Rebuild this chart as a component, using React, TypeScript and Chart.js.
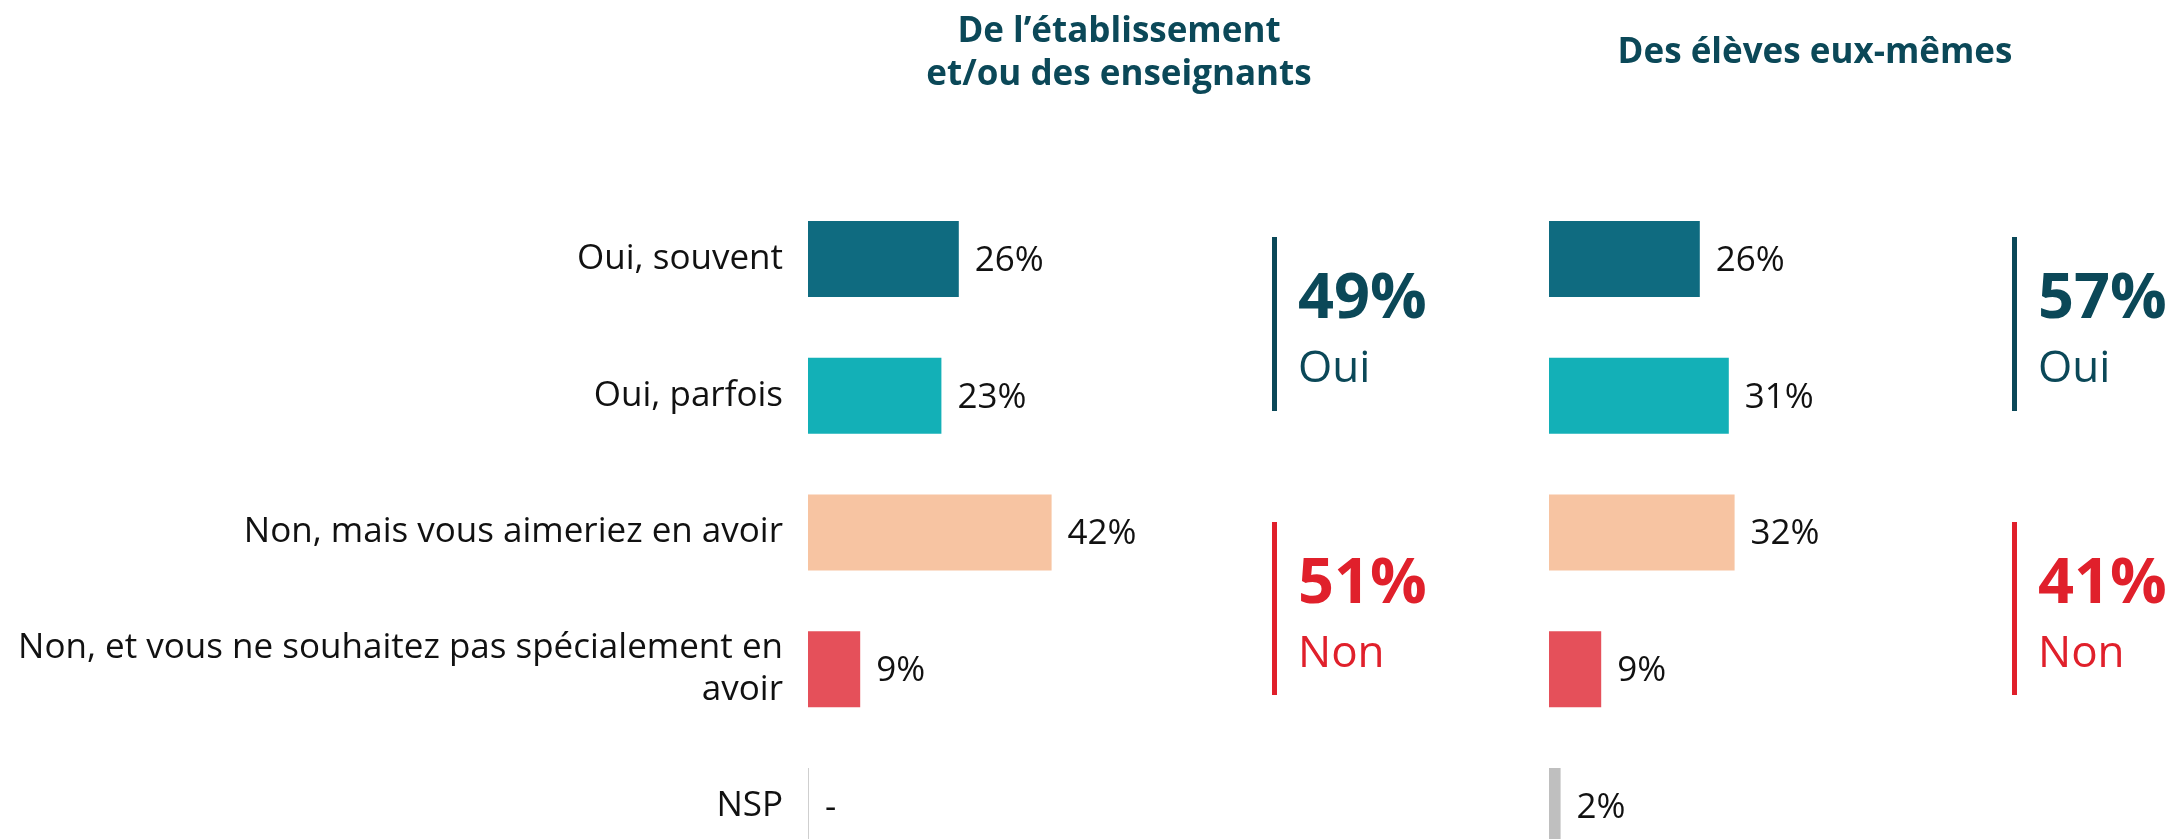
import React, { useEffect, useRef } from "react";
import { Chart, registerables } from "chart.js";

Chart.register(...registerables);

// ---- Data ----
const categories: (string | string[])[] = [
  "Oui, souvent",
  "Oui, parfois",
  "Non, mais vous aimeriez en avoir",
  ["Non, et vous ne souhaitez pas spécialement en", "avoir"],
  "NSP",
];
const etablissementValues = [26, 23, 42, 9, 0];
const etablissementLabels = ["26%", "23%", "42%", "9%", "-"];
const elevesValues = [26, 31, 32, 9, 2];
const elevesLabels = ["26%", "31%", "32%", "9%", "2%"];
const etablissementTitle = ["De l’établissement", "et/ou des enseignants"];
const elevesTitle = ["Des élèves eux-mêmes"];
const ouiTotals = ["49%", "57%"];
const nonTotals = ["51%", "41%"];
const ouiWord = "Oui";
const nonWord = "Non";

// ---- Styles ----
const FONT = "'Open Sans', 'Noto Sans', sans-serif";
const leftColors = ["#0f6b80", "#13b0b7", "#f7c4a2", "#e5505a", "#cfcfcf"];
const rightColors = ["#0f6b80", "#13b0b7", "#f7c4a2", "#e5505a", "#bfbfbf"];
const TEAL = "#0b4858";
const RED = "#e0202b";
const X_MAX = 80;
const CANVAS_H = 1000;
const AREA_TOP = 190.6;
const AREA_BOTTOM = 874.4;

const valueLabelPlugin = {
  id: "valueLabels",
  afterDatasetsDraw(chart: any, _args: any, opts: any) {
    const ctx = chart.ctx;
    const meta = chart.getDatasetMeta(0);
    ctx.save();
    ctx.font = `35px ${FONT}`;
    ctx.fillStyle = "#111111";
    ctx.textBaseline = "middle";
    ctx.textAlign = "left";
    meta.data.forEach((bar: any, i: number) => {
      ctx.fillText(opts.labels[i], bar.x + 16, bar.y + 2);
    });
    ctx.restore();
  },
};

const decorPlugin = {
  id: "decor",
  afterDraw(chart: any, _args: any, opts: any) {
    const ctx = chart.ctx;
    ctx.save();
    // panel title
    ctx.fillStyle = TEAL;
    ctx.font = `bold 35px ${FONT}`;
    ctx.textAlign = "center";
    ctx.textBaseline = "alphabetic";
    opts.title.forEach((line: string, i: number) => {
      ctx.fillText(line, opts.titleX, opts.titleY + i * 43);
    });
    // brackets
    const drawBlock = (color: string, top: number, bottom: number, big: string, word: string) => {
      ctx.fillStyle = color;
      ctx.fillRect(opts.bracketX, top, 5, bottom - top);
      ctx.textAlign = "left";
      ctx.font = `bold 63px ${FONT}`;
      ctx.fillText(big, opts.bracketX + 26, top + 81);
      ctx.font = `44px ${FONT}`;
      ctx.fillText(word, opts.bracketX + 26, top + 145);
    };
    drawBlock(TEAL, 237, 411, opts.oui, ouiWord);
    drawBlock(RED, 522, 695, opts.non, nonWord);
    ctx.restore();
  },
};

function makeConfig(
  values: number[],
  colors: string[],
  labels: string[],
  showTicks: boolean,
  rightPad: number,
  decor: any
): any {
  return {
    type: "bar",
    data: {
      labels: categories,
      datasets: [
        {
          data: values,
          backgroundColor: colors,
          borderWidth: 0,
          barPercentage: 76 / 136.75,
          categoryPercentage: 1,
          minBarLength: 1,
        },
      ],
    },
    options: {
      indexAxis: "y",
      responsive: false,
      animation: false,
      devicePixelRatio: 1,
      layout: {
        padding: { top: AREA_TOP, bottom: CANVAS_H - AREA_BOTTOM, left: 0, right: rightPad },
      },
      plugins: {
        legend: { display: false },
        tooltip: { enabled: false },
        title: { display: false },
        valueLabels: { labels },
        decor,
      },
      scales: {
        x: {
          display: false,
          min: 0,
          max: X_MAX,
        },
        y: {
          display: showTicks,
          grid: { display: false, drawTicks: false },
          border: { display: false },
          ticks: {
            padding: 25,
            color: "#111111",
            font: { family: FONT, size: 35, lineHeight: 1.2 },
            autoSkip: false,
          },
          afterFit: (scale: any) => {
            if (showTicks) scale.width = 808;
          },
        },
      },
    },
    plugins: [valueLabelPlugin, decorPlugin],
  };
}

export default function App() {
  const leftRef = useRef<HTMLCanvasElement | null>(null);
  const rightRef = useRef<HTMLCanvasElement | null>(null);

  useEffect(() => {
    document.body.style.margin = "0";
    const left = new Chart(
      leftRef.current as HTMLCanvasElement,
      makeConfig(etablissementValues, leftColors, etablissementLabels, true, 1549 - 1272, {
        title: etablissementTitle,
        titleX: 1119,
        titleY: 42,
        bracketX: 1272,
        oui: ouiTotals[0],
        non: nonTotals[0],
      })
    );
    const right = new Chart(
      rightRef.current as HTMLCanvasElement,
      makeConfig(elevesValues, rightColors, elevesLabels, false, 623 - 464, {
        title: elevesTitle,
        titleX: 1815 - 1549,
        titleY: 63,
        bracketX: 2012 - 1549,
        oui: ouiTotals[1],
        non: nonTotals[1],
      })
    );
    let alive = true;
    (document as any).fonts?.ready?.then(() => {
      if (alive) {
        left.update();
        right.update();
      }
    });
    return () => {
      alive = false;
      left.destroy();
      right.destroy();
    };
  }, []);

  return (
    <div
      style={{
        position: "fixed",
        left: 0,
        top: 0,
        width: 2172,
        height: 839,
        overflow: "hidden",
        background: "#ffffff",
      }}
    >
      <canvas
        ref={leftRef}
        width={1549}
        height={CANVAS_H}
        style={{ position: "absolute", left: 0, top: 0, width: 1549, height: CANVAS_H }}
      />
      <canvas
        ref={rightRef}
        width={623}
        height={CANVAS_H}
        style={{ position: "absolute", left: 1549, top: 0, width: 623, height: CANVAS_H }}
      />
    </div>
  );
}
